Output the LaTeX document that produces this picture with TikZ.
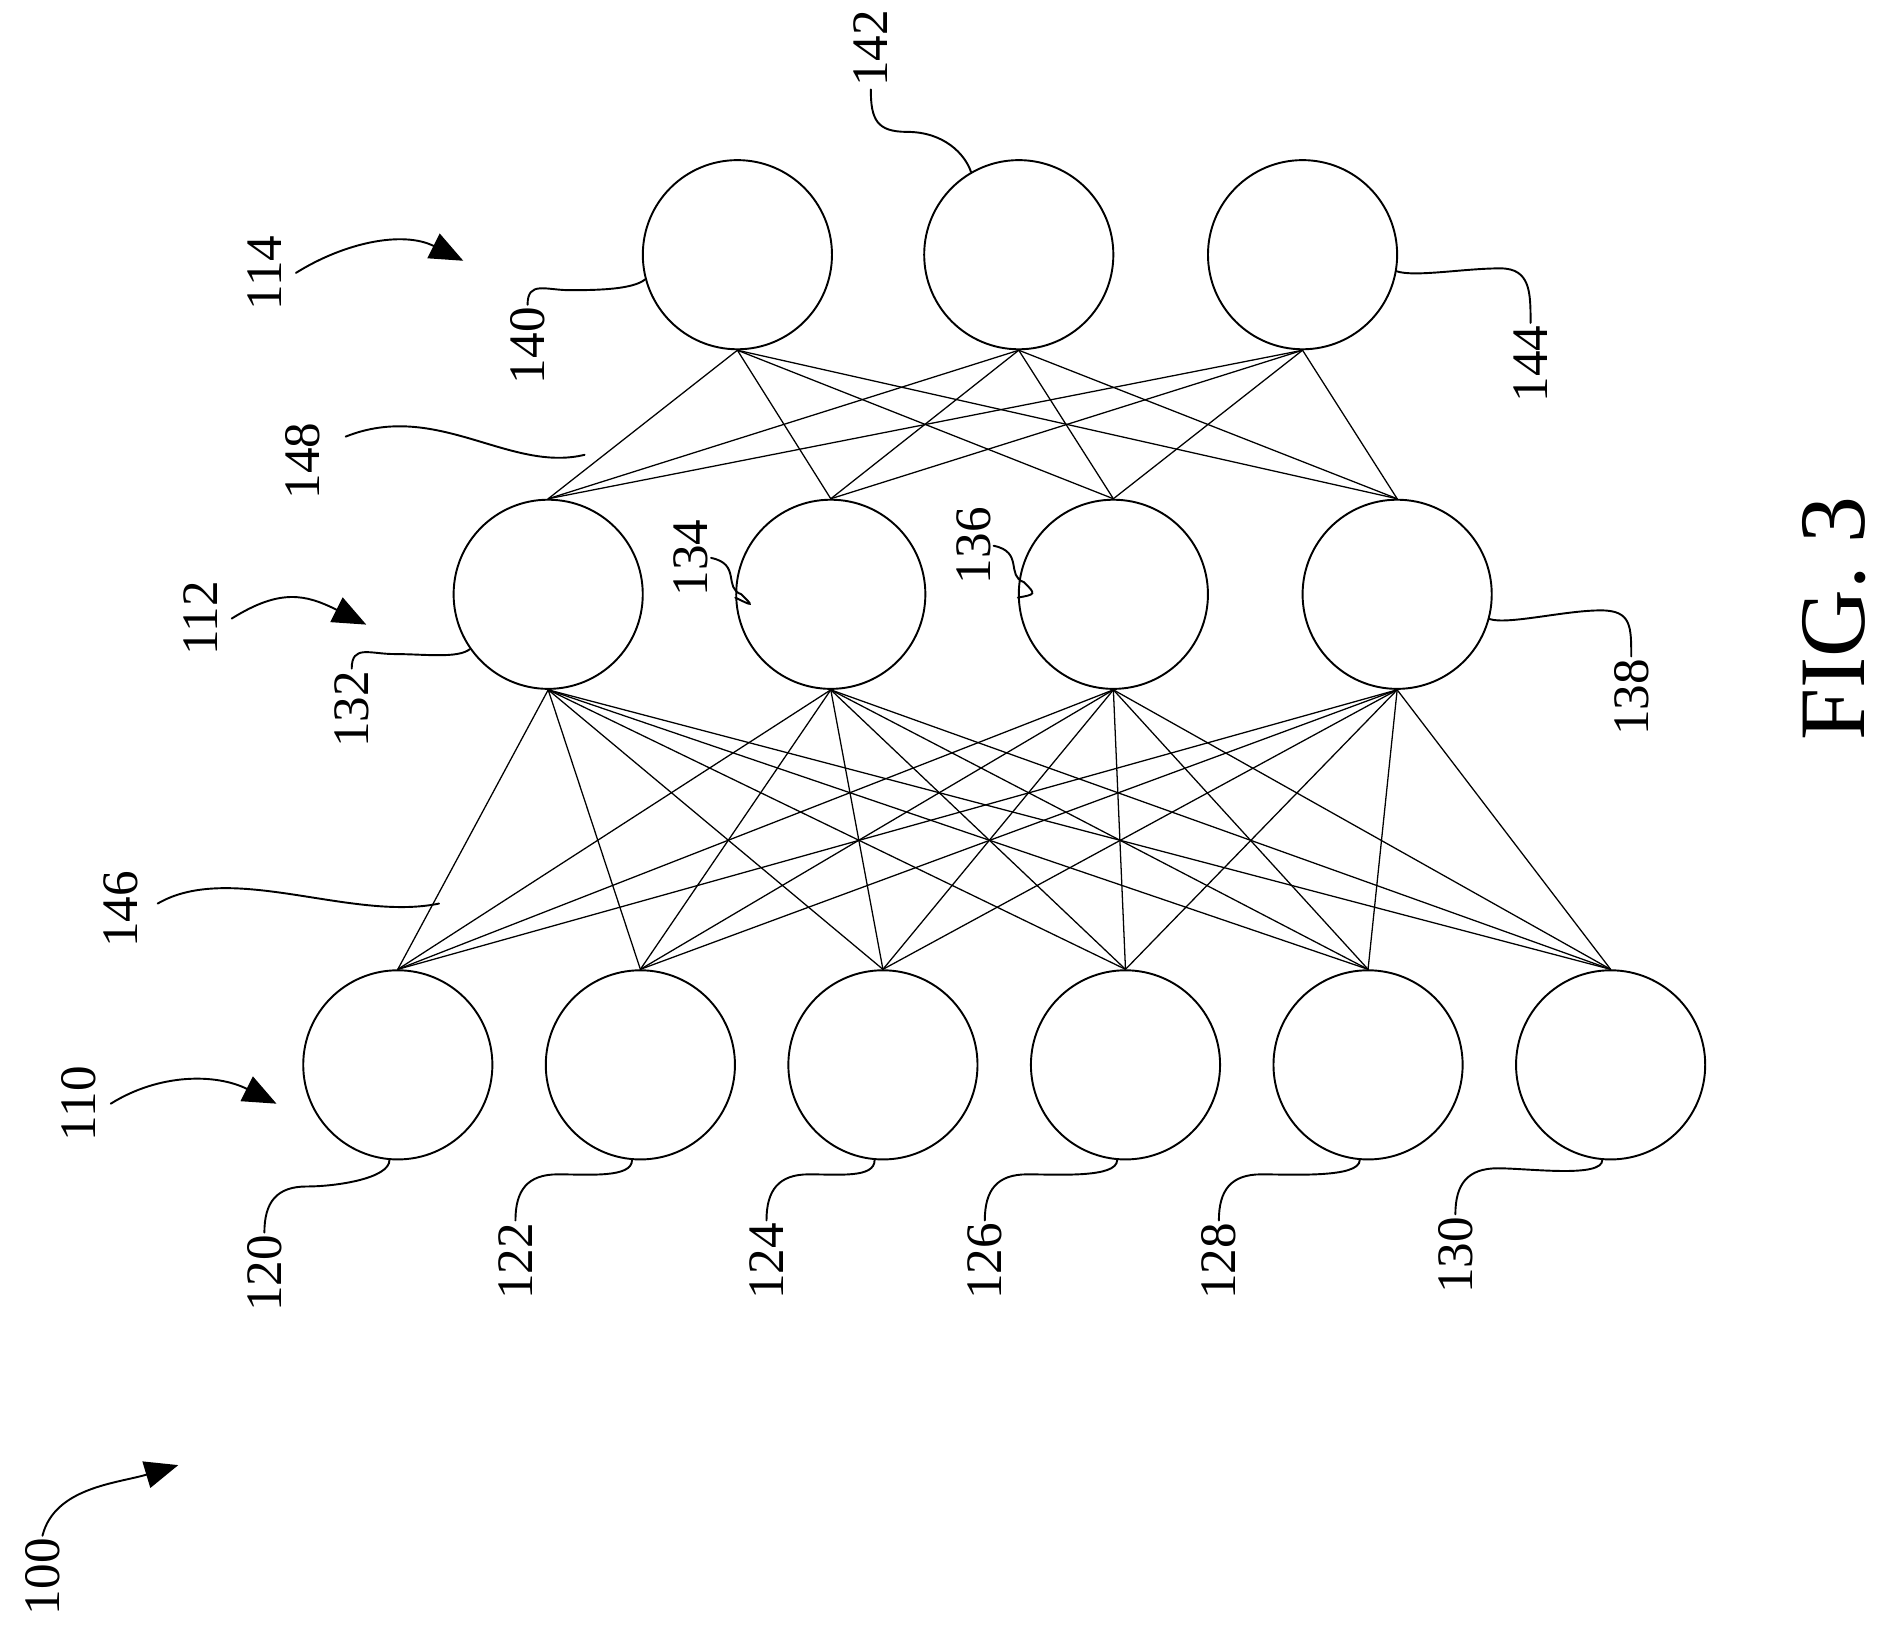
\documentclass[tikz,border=0pt]{standalone}
\usepackage{fontspec}
\setmainfont{Liberation Serif}
\usetikzlibrary{arrows.meta}
\begin{document}
\begin{tikzpicture}[x=0.02cm,y=-0.02cm,line cap=round,
		neuron/.style={draw,circle,minimum size=3.12cm,inner sep=0pt,line width=0.9pt},
		ref/.style={rotate=90,font=\fontsize{24}{24}\selectfont,inner sep=1pt},
		lead/.style={line width=0.9pt},
		pointer/.style={line width=0.9pt,-{Triangle[length=0.55cm,width=0.45cm]}}]
	\useasboundingbox (0,0) rectangle (1560,1340);

	% draw the three layers
	\foreach \n/\x in {120/328,122/528,124/728,126/928,128/1128,130/1328}
		\node[neuron] (n\n) at (\x,878) {};
	\foreach \n/\x in {132/452,134/685,136/918,138/1152}
		\node[neuron] (n\n) at (\x,490) {};
	\foreach \n/\x in {140/608,142/840,144/1074}
		\node[neuron] (n\n) at (\x,210) {};

	% connections between the layers
	\foreach \a in {120,122,...,130}
		\foreach \b in {132,134,136,138}
			\draw[line width=0.6pt] (n\a.north) -- (n\b.south);
	\foreach \a in {132,134,136,138}
		\foreach \b in {140,142,144}
			\draw[line width=0.6pt] (n\a.north) -- (n\b.south);

	% reference numerals of the neurons
	\foreach \n/\x/\y in {120/218/1050,122/425/1040,124/632/1040,
		126/812/1040,128/1005/1040,130/1200/1035}{
		\node[ref] (l\n) at (\x,\y) {\n};
		\draw[lead] (l\n.east) .. controls +(0,-25) and +(-25,0) .. +(35,-38)
			.. controls +(25,0) and +(0,15) .. (n\n.-95);
	}
	\foreach \n/\x/\y/\ang in {132/290/585/215,140/435/285/195}{
		\node[ref] (l\n) at (\x,\y) {\n};
		\draw[lead] (l\n.east) .. controls +(0,-20) and +(-20,0) .. +(35,-12)
			.. controls +(25,0) and +(-10,8) .. (n\n.\ang);
	}
	\node[ref] (l134) at (570,460) {134};
	\draw[lead] (l134.south) .. controls +(25,5) and +(-15,-5) .. +(25,30)
		.. controls +(10,10) .. (n134.182);
	\node[ref] (l136) at (803,450) {136};
	\draw[lead] (l136.south) .. controls +(25,5) and +(-15,-5) .. +(25,30)
		.. controls +(10,10) .. (n136.182);
	\node[ref] (l138) at (1345,575) {138};
	\draw[lead] (l138.east) .. controls +(0,-25) and +(25,0) .. +(-25,-38)
		.. controls +(-30,0) and +(15,5) .. (n138.-15);
	\node[ref] (l144) at (1262,300) {144};
	\draw[lead] (l144.east) .. controls +(0,-25) and +(25,0) .. +(-25,-45)
		.. controls +(-30,0) and +(15,5) .. (n144.-10);
	\node[ref] (l142) at (718,40) {142};
	\draw[lead] (l142.west) .. controls +(0,25) and +(-25,0) .. +(30,35)
		.. controls +(30,0) and +(-5,-15) .. (n142.120);

	% reference numerals of the connection sets
	\node[ref] (l146) at (100,750) {146};
	\coordinate (e146) at (362,745);
	\draw[lead] (130,745) .. controls (190,710) and (290,760) .. (e146);
	\node[ref] (l148) at (250,380) {148};
	\coordinate (e148) at (482,375);
	\draw[lead] (285,360) .. controls (360,330) and (420,390) .. (e148);

	% reference numerals of the layers
	\foreach \n/\x/\y/\tx/\ty in {110/65/910/228/910,112/165/510/302/515,114/218/225/382/215}{
		\node[ref] (l\n) at (\x,\y) {\n};
		\coordinate (t\n) at (\tx,\ty);
		\draw[pointer] (l\n.south) ++(10,0) .. controls +(40,-25) and +(-50,-25) .. (t\n);
	}
	\node[ref] (l100) at (35,1300) {100};
	\coordinate (t100) at (147,1208);
	\draw[pointer] (l100.east) .. controls +(10,-40) and +(-50,15) .. (t100);

	\node[rotate=90,font=\fontsize{44}{44}\selectfont] (fig) at (1512,510) {FIG. 3};
\end{tikzpicture}
\end{document}
